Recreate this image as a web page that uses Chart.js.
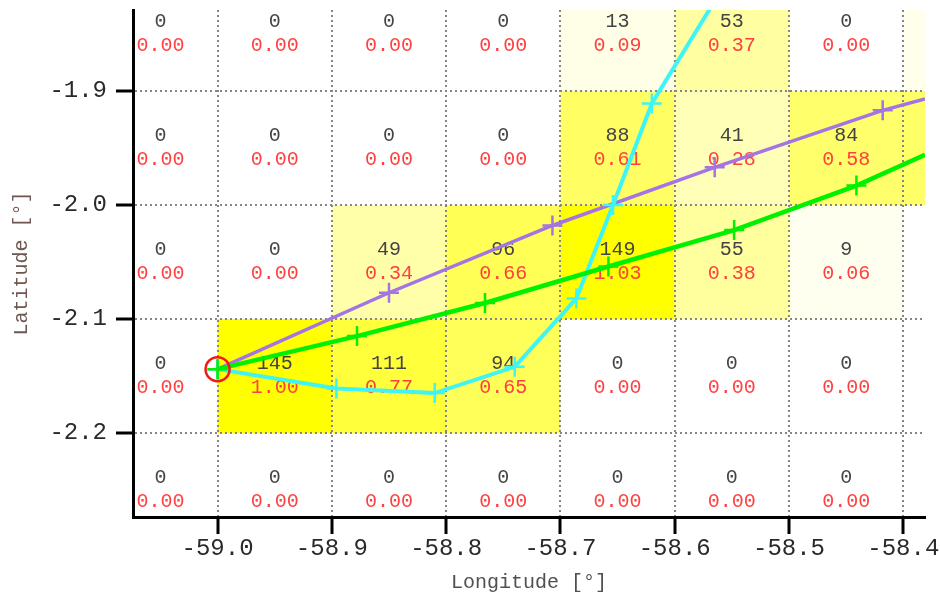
<!DOCTYPE html>
<html>
<head>
<meta charset="utf-8">
<script src="https://cdn.jsdelivr.net/npm/chart.js@4/dist/chart.umd.min.js"></script>
<style>
  html, body { margin: 0; padding: 0; background: #ffffff; }
  #wrap { width: 940px; height: 597px; }
</style>
</head>
<body>
<div id="wrap"><canvas id="c" width="940" height="597"></canvas></div>
<script>
// Grid of 0.1° cells: centres of columns (longitude) and rows (latitude)
const lonCenters = [-59.05, -58.95, -58.85, -58.75, -58.65, -58.55, -58.45, -58.35];
const latCenters = [-1.85, -1.95, -2.05, -2.15, -2.25];

// Hit counts per cell, one row per latitude band (top to bottom)
const countsRow1 = [0, 0, 0, 0, 13, 53, 0, 11];
const countsRow2 = [0, 0, 0, 0, 88, 41, 84, 86];
const countsRow3 = [0, 0, 49, 96, 149, 55, 9, 0];
const countsRow4 = [0, 145, 111, 94, 0, 0, 0, 0];
const countsRow5 = [0, 0, 0, 0, 0, 0, 0, 0];
const counts = [countsRow1, countsRow2, countsRow3, countsRow4, countsRow5];

// Count of the release cell; every cell is also shown relative to it
const refCount = 145;
const cellSize = 0.1;

// Release point
const startLon = [-59.0];
const startLat = [-2.144];

// Trajectories (marks = 1 where a time-step marker is drawn)
const greenLon = [-59.0, -58.878, -58.766, -58.658, -58.548, -58.441, -58.381];
const greenLat = [-2.144, -2.115, -2.086, -2.054, -2.022, -1.983, -1.956];
const greenMarks = [1, 1, 1, 1, 1, 1, 0];

const purpleLon = [-59.0, -58.850, -58.707, -58.565, -58.418, -58.381];
const purpleLat = [-2.144, -2.077, -2.018, -1.967, -1.917, -1.907];
const purpleMarks = [1, 1, 1, 1, 1, 0];

const cyanLon = [-59.0, -58.896, -58.810, -58.740, -58.686, -58.654, -58.620, -58.568];
const cyanLat = [-2.144, -2.161, -2.165, -2.142, -2.082, -2.000, -1.911, -1.826];
const cyanMarks = [1, 1, 1, 1, 1, 1, 1, 0];

// Axis tick values
const lonTicks = [-59.0, -58.9, -58.8, -58.7, -58.6, -58.5, -58.4];
const latTicks = [-1.9, -2.0, -2.1, -2.2];

const toPoints = (xs, ys) => xs.map((x, i) => ({ x: x, y: ys[i] }));
const markRadius = (marks) => marks.map(m => (m ? 10 : 0));

function clipToArea(ctx, a) {
  ctx.beginPath();
  ctx.rect(a.left, a.top, a.right - a.left, a.bottom - a.top);
  ctx.clip();
}

// Shaded cells below the grid, value labels below the trajectories
const heatCells = {
  id: 'heatCells',
  beforeDraw(chart) {
    const { ctx, chartArea: a, scales: { x, y } } = chart;
    ctx.save();
    clipToArea(ctx, a);
    latCenters.forEach((lat, r) => {
      lonCenters.forEach((lon, c) => {
        const v = counts[r][c];
        const t = Math.min(1, v / refCount);
        const b = Math.round(255 * (1 - t));
        const x0 = x.getPixelForValue(lon - cellSize / 2);
        const x1 = x.getPixelForValue(lon + cellSize / 2);
        const y0 = y.getPixelForValue(lat + cellSize / 2);
        const y1 = y.getPixelForValue(lat - cellSize / 2);
        ctx.fillStyle = 'rgb(255,255,' + b + ')';
        ctx.fillRect(x0, y0, x1 - x0, y1 - y0);
      });
    });
    ctx.restore();
  },
  beforeDatasetsDraw(chart) {
    const { ctx, chartArea: a, scales: { x, y } } = chart;
    ctx.save();
    clipToArea(ctx, a);
    ctx.font = '20px "Liberation Mono", "Courier New", monospace';
    ctx.textAlign = 'center';
    ctx.textBaseline = 'middle';
    latCenters.forEach((lat, r) => {
      lonCenters.forEach((lon, c) => {
        const v = counts[r][c];
        const px = x.getPixelForValue(lon);
        const py = y.getPixelForValue(lat);
        ctx.fillStyle = '#444444';
        ctx.fillText(String(v), px, py - 12);
        ctx.fillStyle = '#ff4040';
        ctx.fillText((v / refCount).toFixed(2), px, py + 12);
      });
    });
    ctx.restore();
  }
};

const monoFamily = '"Liberation Mono", "Courier New", monospace';
const xTickFont = { family: monoFamily, size: 24 };
const yTickFont = { family: monoFamily, size: 24 };
const titleFont = { family: monoFamily, size: 20 };

const gridStyle = {
  color: '#858585',
  lineWidth: 2,
  tickColor: '#000000',
  tickWidth: 3,
  tickLength: 17
};

new Chart(document.getElementById('c'), {
  type: 'scatter',
  data: {
    datasets: [
      {
        label: 'Release',
        data: toPoints(startLon, startLat),
        showLine: false,
        pointStyle: 'circle',
        pointRadius: 12,
        pointBorderWidth: 2.5,
        borderColor: '#f01a1a',
        backgroundColor: 'rgba(0,0,0,0)'
      },
      {
        label: 'Track A',
        data: toPoints(greenLon, greenLat),
        showLine: true,
        borderColor: '#00f000',
        borderWidth: 4.5,
        pointStyle: 'cross',
        pointRadius: markRadius(greenMarks),
        pointBorderWidth: 2.5,
        backgroundColor: '#00f000'
      },
      {
        label: 'Track B',
        data: toPoints(cyanLon, cyanLat),
        showLine: true,
        borderColor: '#3ff4f4',
        borderWidth: 4,
        pointStyle: 'cross',
        pointRadius: markRadius(cyanMarks),
        pointBorderWidth: 2.5,
        backgroundColor: '#3ff4f4'
      },
      {
        label: 'Track C',
        data: toPoints(purpleLon, purpleLat),
        showLine: true,
        borderColor: '#a474e4',
        borderWidth: 3.5,
        pointStyle: 'cross',
        pointRadius: markRadius(purpleMarks),
        pointBorderWidth: 2.5,
        backgroundColor: '#a474e4'
      }
    ]
  },
  options: {
    responsive: false,
    animation: false,
    events: [],
    devicePixelRatio: 1,
    layout: { autoPadding: false, padding: { top: 10, right: 15, left: 0, bottom: 0 } },
    plugins: { legend: { display: false }, tooltip: { enabled: false } },
    scales: {
      x: {
        type: 'linear',
        position: 'bottom',
        bounds: 'data',
        min: -59.074,
        max: -58.381,
        afterFit(s) { s.height = 80; s.paddingLeft = 0; s.paddingRight = 0; },
        afterBuildTicks(s) { s.ticks = lonTicks.map(v => ({ value: v })); },
        ticks: {
          autoSkip: false,
          maxRotation: 0,
          padding: 0,
          color: '#2a2a2a',
          font: xTickFont,
          callback: v => Number(v).toFixed(1)
        },
        grid: gridStyle,
        border: { display: true, color: '#000000', width: 3, dash: [2, 3] },
        title: {
          display: true,
          text: 'Longitude [°]',
          color: '#505050',
          font: titleFont,
          padding: { top: 0, bottom: 2 }
        }
      },
      y: {
        type: 'linear',
        position: 'left',
        bounds: 'data',
        min: -2.2737,
        max: -1.829,
        afterFit(s) { s.width = 133; s.paddingTop = 0; s.paddingBottom = 0; },
        afterBuildTicks(s) { s.ticks = latTicks.map(v => ({ value: v })); },
        ticks: {
          autoSkip: false,
          padding: 9,
          color: '#2a2a2a',
          font: yTickFont,
          callback: v => Number(v).toFixed(1)
        },
        grid: gridStyle,
        border: { display: true, color: '#000000', width: 3, dash: [2, 3] },
        title: {
          display: true,
          text: 'Latitude [°]',
          color: '#6e5750',
          font: titleFont,
          padding: { top: 10, bottom: 0 }
        }
      }
    }
  },
  plugins: [heatCells]
});
</script>
</body>
</html>
